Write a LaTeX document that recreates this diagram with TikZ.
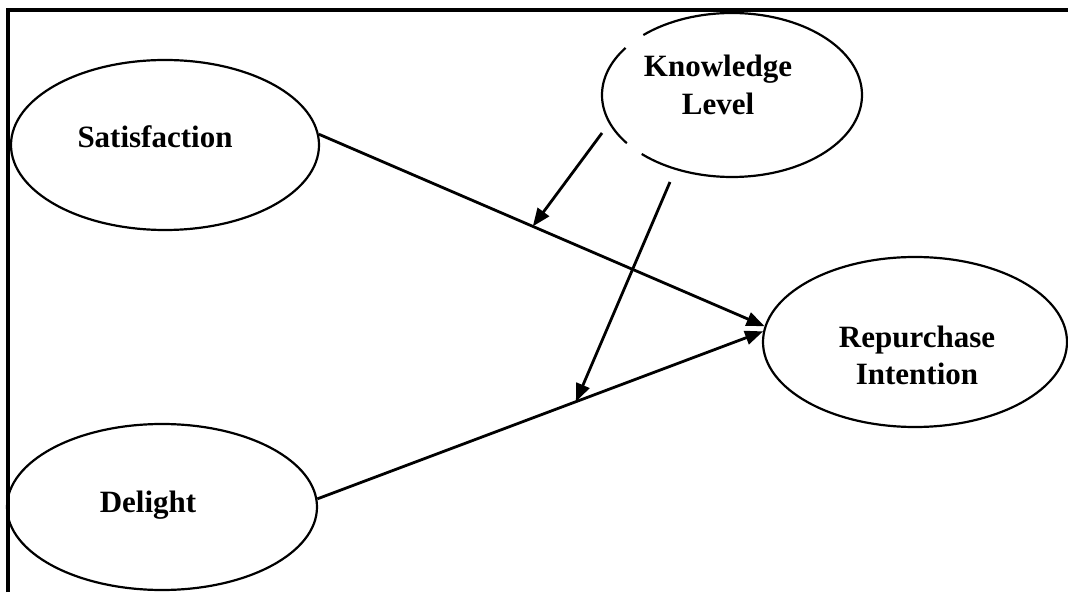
\documentclass[tikz,border=0pt]{standalone}
\usepackage{fontspec}
\setmainfont{Liberation Serif}
\usetikzlibrary{shapes.geometric,arrows.meta,calc}
\begin{document}
\begin{tikzpicture}[x=1pt,y=1pt,
  ell/.style={draw=black,line width=2.2pt},
  ellnode/.style={shape=ellipse,inner sep=0pt},
  lbl/.style={font=\fontsize{31}{38}\selectfont\bfseries,anchor=base,inner sep=0pt},
  conn/.style={line width=2.8pt,-{Triangle[length=18pt,width=14pt]}}]
\useasboundingbox (0,0) rectangle (1068,592);
% frame
\draw[line width=4pt] (8,0) -- (8,582) -- (1068,582);
% ellipses
\node[ellnode,ell,minimum width=308pt,minimum height=170pt] (sat) at (165,447) {};
\node[ellnode,minimum width=260pt,minimum height=164pt] (kl) at (732,497) {};
\node[ellnode,ell,minimum width=304pt,minimum height=170pt] (rep) at (915,250) {};
\node[ellnode,ell,minimum width=310pt,minimum height=166pt] (del) at (162,85) {};
\draw[ell] ($(kl.center)+(145:130pt and 82pt)$) arc[start angle=145,end angle=216,x radius=130pt,y radius=82pt];
\draw[ell] ($(kl.center)+(226:130pt and 82pt)$) arc[start angle=226,end angle=493,x radius=130pt,y radius=82pt];
% labels
\node[lbl] (satl) at (155,444) {Satisfaction};
\node[lbl] (kll1) at (718,515) {Knowledge};
\node[lbl] (kll2) at (718,477) {Level};
\node[lbl] (repl1) at (917,244) {Repurchase};
\node[lbl] (repl2) at (917,207) {Intention};
\node[lbl] (dell) at (148,80) {Delight};
% connectors
\draw[conn] (sat.4.5) -- (rep.174.8);
\draw[conn] (del.3.7) -- (rep.176);
\coordinate (k1) at (602,459);
\coordinate (k2) at (670,410);
\coordinate (m1) at ($(sat.4.5)!0.48!(rep.174.8)$);
\coordinate (m2) at ($(del.3.7)!0.58!(rep.176)$);
\draw[conn] (k1) -- (m1);
\draw[conn] (k2) -- (m2);
\end{tikzpicture}
\end{document}
